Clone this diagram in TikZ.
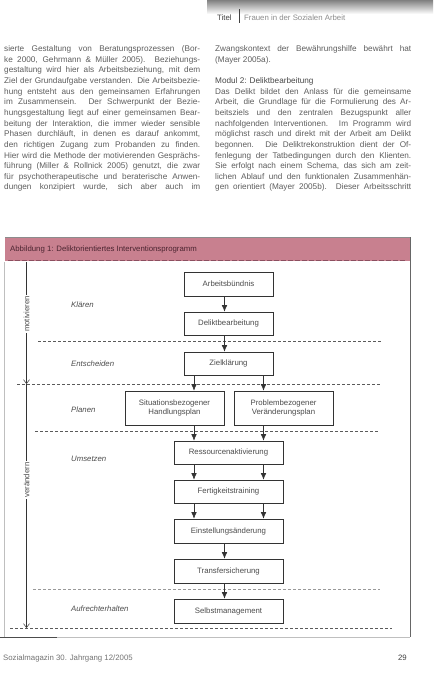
\documentclass[tikz,border=0pt]{standalone}
\usepackage{fontspec}
\usepackage{graphicx}
\setmainfont{Liberation Sans}
\usetikzlibrary{arrows.meta}
\definecolor{bodytxt}{HTML}{5E5E5E}
\definecolor{pinkbar}{HTML}{C8808F}
\definecolor{pinkdark}{HTML}{8C4F60}
\definecolor{captxt}{HTML}{4A2430}
\definecolor{boxline}{HTML}{333333}
\definecolor{boxtxt}{HTML}{4C4C4C}
\definecolor{sepcol}{HTML}{5A5A5A}
\definecolor{shade}{HTML}{F3F3F3}
\newcommand{\bodyfont}{\fontsize{8.2}{9}\selectfont}
\newsavebox{\linebox}
\newcommand{\fitline}[1]{\sbox{\linebox}{#1}\ifdim\wd\linebox>196pt\resizebox{196pt}{\height}{\usebox{\linebox}}\else\makebox[196pt][s]{#1}\fi}
\newcommand{\jline}[4]{\node[bodyline] (#1) at (#2,#3) {\fitline{#4}};}
\newcommand{\pline}[4]{\node[bodyline] (#1) at (#2,#3) {#4};}
\begin{document}
\begin{tikzpicture}[x=1pt,y=-1pt,
  bodyline/.style={anchor=base west,inner sep=0pt,text=bodytxt,font=\bodyfont},
  box/.style={draw=boxline,line width=0.6pt,fill=white,text=boxtxt,
    font=\fontsize{7.8}{9.2}\selectfont,inner sep=0pt,align=center},
  arr/.style={-{Latex[length=6.5pt,width=5.5pt]},line width=0.65pt,draw=boxline},
  axis/.style={-{Straight Barb[length=4pt,width=6pt]},line width=0.5pt,draw=boxline},
  sep/.style={dash pattern=on 3pt off 2pt,draw=sepcol,line width=0.5pt},
  lab/.style={font=\fontsize{7.8}{9}\selectfont\itshape,text=boxtxt,anchor=west,inner sep=0pt},
  vlab/.style={font=\fontsize{7.8}{9}\selectfont,text=boxtxt,rotate=90,fill=white,inner sep=1.5pt}]
\useasboundingbox (0,0) rectangle (440,680);
\fill[white] (0,0) rectangle (440,680);
% header
\fill[shade] (207,0) rectangle (433,14);
\node[anchor=base west,inner sep=0pt,text=black!75,font=\fontsize{7.8}{9}\selectfont] (htitel) at (217,20) {Titel};
\draw[black!75,line width=0.6pt] (239.5,9) -- (239.5,23);
\node[anchor=base west,inner sep=0pt,text=black!45,font=\fontsize{7.8}{9}\selectfont] (hthema) at (244,20) {Frauen in der Sozialen Arbeit};
% body text, left column
\jline{l1}{4}{51.5}{sierte Gestaltung von Beratungsprozessen (Bor-}
\jline{l2}{4}{62.15}{ke 2000, Gehrmann \& Müller 2005). Beziehungs-}
\jline{l3}{4}{72.8}{gestaltung wird hier als Arbeitsbeziehung, mit dem}
\jline{l4}{4}{83.45}{Ziel der Grundaufgabe verstanden. Die Arbeitsbezie-}
\jline{l5}{4}{94.1}{hung entsteht aus den gemeinsamen Erfahrungen}
\jline{l6}{4}{104.75}{im Zusammensein. Der Schwerpunkt der Bezie-}
\jline{l7}{4}{115.4}{hungsgestaltung liegt auf einer gemeinsamen Bear-}
\jline{l8}{4}{126.05}{beitung der Interaktion, die immer wieder sensible}
\jline{l9}{4}{136.7}{Phasen durchläuft, in denen es darauf ankommt,}
\jline{l10}{4}{147.35}{den richtigen Zugang zum Probanden zu finden.}
\jline{l11}{4}{158.0}{Hier wird die Methode der motivierenden Gesprächs-}
\jline{l12}{4}{168.65}{führung (Miller \& Rollnick 2005) genutzt, die zwar}
\jline{l13}{4}{179.3}{für psychotherapeutische und beraterische Anwen-}
\jline{l14}{4}{189.95}{dungen konzipiert wurde, sich aber auch im}
% body text, right column
\jline{r1}{215}{51.5}{Zwangskontext der Bewährungshilfe bewährt hat}
\pline{r2}{215}{62.15}{(Mayer 2005a).}
\pline{r3}{215}{83.45}{\textcolor{black!72}{Modul 2: Deliktbearbeitung}}
\jline{r4}{215}{94.1}{Das Delikt bildet den Anlass für die gemeinsame}
\jline{r5}{215}{104.75}{Arbeit, die Grundlage für die Formulierung des Ar-}
\jline{r6}{215}{115.4}{beitsziels und den zentralen Bezugspunkt aller}
\jline{r7}{215}{126.05}{nachfolgenden Interventionen. Im Programm wird}
\jline{r8}{215}{136.7}{möglichst rasch und direkt mit der Arbeit am Delikt}
\jline{r9}{215}{147.35}{begonnen. Die Deliktrekonstruktion dient der Of-}
\jline{r10}{215}{158.0}{fenlegung der Tatbedingungen durch den Klienten.}
\jline{r11}{215}{168.65}{Sie erfolgt nach einem Schema, das sich am zeit-}
\jline{r12}{215}{179.3}{lichen Ablauf und den funktionalen Zusammenhän-}
\jline{r13}{215}{189.95}{gen orientiert (Mayer 2005b). Dieser Arbeitsschritt}
% figure frame
\fill[pinkbar] (5,237) rectangle (410,261);
\draw[black!45,line width=0.5pt] (5,237) -- (410,237);
\draw[pinkdark,line width=0.8pt,dash pattern=on 5pt off 2pt] (8,260.5) -- (405,260.5);
\node[anchor=west,inner sep=0pt,text=captxt,font=\fontsize{7.8}{9}\selectfont] (cap) at (10,249) {Abbildung 1: Deliktorientiertes Interventionsprogramm};
\draw[black!60,line width=0.6pt] (410,237) -- (410,637);
\draw[black!25,line width=0.5pt] (4.5,262) -- (4.5,637);
\draw[black!25,line width=0.5pt] (57,637) -- (410,637);
\draw[black!70,line width=0.6pt] (0,637) -- (57,637);
% separators
\draw[sep] (38,341) -- (382,341);
\draw[sep] (17,384.5) -- (380,384.5);
\draw[sep] (35,431) -- (378,431);
\draw[sep,draw=black!40] (33,589) -- (380,589);
\draw[sep] (10,628) -- (392,628);
% boxes
\node[box,minimum width=89pt,minimum height=24pt] (ab) at (228.5,284) {Arbeitsbündnis};
\node[box,minimum width=89pt,minimum height=23pt] (dv) at (228.5,323.5) {Deliktbearbeitung};
\node[box,minimum width=89pt,minimum height=23pt] (zk) at (228.5,363.5) {Zielklärung};
\node[box,minimum width=99pt,minimum height=34pt] (sh) at (174.5,408) {Situationsbezogener\\Handlungsplan};
\node[box,minimum width=99pt,minimum height=34pt] (pv) at (283.5,408) {Problembezogener\\Veränderungsplan};
\node[box,minimum width=109pt,minimum height=23pt] (ra) at (228.5,452.5) {Ressourcenaktivierung};
\node[box,minimum width=109pt,minimum height=23pt] (ft) at (228.5,491.5) {Fertigkeitstraining};
\node[box,minimum width=109pt,minimum height=24pt] (ea) at (228.5,531) {Einstellungsänderung};
\node[box,minimum width=109pt,minimum height=24pt] (ts) at (228.5,571) {Transfersicherung};
\node[box,minimum width=109pt,minimum height=24pt] (sm) at (228.5,611) {Selbstmanagement};
% arrow columns
\coordinate (C) at (224.5,0);
\coordinate (L) at (194,0);
\coordinate (R) at (263.5,0);
\draw[arr] (ab.south -| C) -- (dv.north -| C);
\draw[arr] (dv.south -| C) -- (zk.north -| C);
\draw[arr] (zk.south -| L) -- (sh.north -| L);
\draw[arr] (zk.south -| R) -- (pv.north -| R);
\draw[arr] (sh.south -| L) -- (ra.north -| L);
\draw[arr] (pv.south -| R) -- (ra.north -| R);
\draw[arr] (ra.south -| L) -- (ft.north -| L);
\draw[arr] (ra.south -| R) -- (ft.north -| R);
\draw[arr] (ft.south -| L) -- (ea.north -| L);
\draw[arr] (ft.south -| R) -- (ea.north -| R);
\draw[arr] (ea.south -| C) -- (ts.north -| C);
\draw[arr] (ts.south -| C) -- (sm.north -| C);
% phase labels
\node[lab] (kl) at (71,305) {Klären};
\node[lab] (en) at (71,364) {Entscheiden};
\node[lab] (pl) at (71,410) {Planen};
\node[lab] (us) at (71,459) {Umsetzen};
\node[lab] (au) at (71,609) {Aufrechterhalten};
% vertical axis
\coordinate (axtop) at (26.5,262);
\coordinate (axmid) at (26.5,384);
\coordinate (axbot) at (26.5,628);
\draw[axis] (axtop) -- (axmid);
\draw[axis] (axmid) -- (axbot);
\node[vlab] (mot) at (26.5,314) {motivieren};
\node[vlab] (ver) at (26.5,480) {verändern};
% footer
\node[anchor=base west,inner sep=0pt,text=black!55,font=\fontsize{7.8}{9}\selectfont] (foot) at (3,660) {Sozialmagazin 30. Jahrgang 12/2005};
\node[anchor=base east,inner sep=0pt,text=black!75,font=\fontsize{7.8}{9}\selectfont] (page) at (407,660) {29};
\end{tikzpicture}
\end{document}
